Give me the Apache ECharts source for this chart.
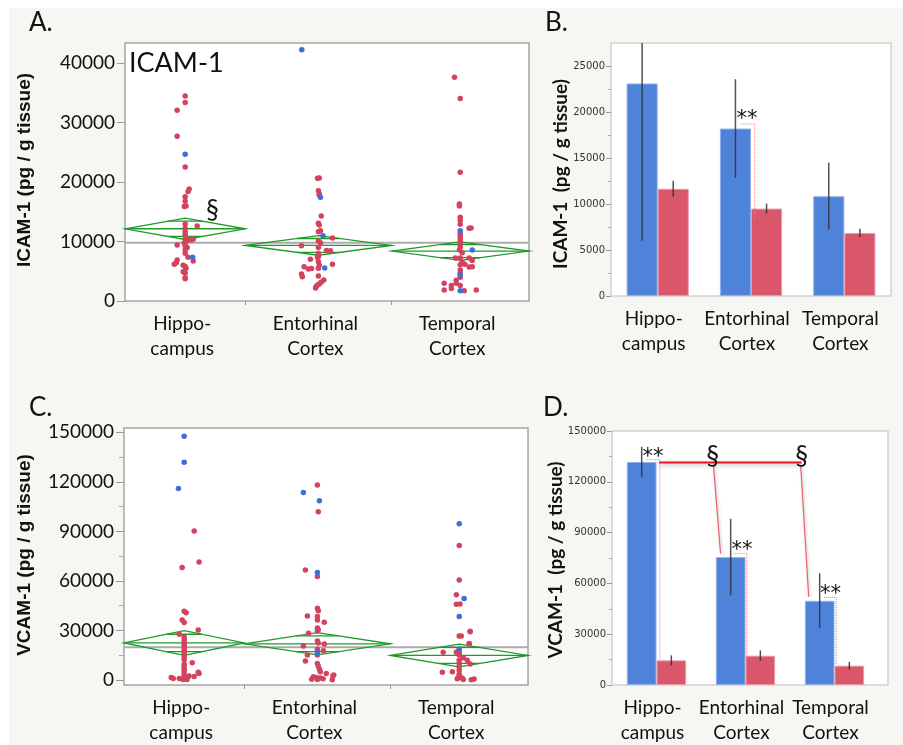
<!DOCTYPE html>
<html><head><meta charset="utf-8">
<script src="https://cdn.jsdelivr.net/npm/echarts@6/dist/echarts.min.js"></script>
<style>html,body{margin:0;padding:0;background:#fff}#c{width:903px;height:745px}</style>
</head><body><div id="c"></div>
<script>
// ---------------- DATA ----------------
const categories = ['Hippo-\ncampus', 'Entorhinal\nCortex', 'Temporal\nCortex'];
const groupN = [42, 51, 48];   // group sizes (JMP proportional x-axis)

// ICAM-1 individual values (A)
const icamHippoRed = [34500,33400,32100,27700,22550,18850,18400,17550,16800,16000,15900,12950,12600,12230,11660,11200,10820,10400,10330,10250,10000,9800,9420,9300,9000,8600,8020,7350,6900,6730,6450,6170,6000,5800,5500,4930,4700,3930,3750];
const icamHippoRedJitter = [0,0,-2.8,-2.8,0,1.4,1,0,0,0.3,-0.3,0,4.2,0,0,0,0,2.8,1.4,2.1,0.3,-0.3,-2.8,0,0.7,0,0,1,-2.8,2.8,-3.1,-3.8,-0.7,0,0.3,-0.7,0,0,0];
const icamHippoBlue = [24700, 7350];
const icamHippoBlueJitter = [0, 2.6];
const icamEntRed = [20650,20700,18560,18000,17850,14300,13070,12800,11830,11660,10600,10100,9800,9310,9000,8500,8450,8000,7500,7350,7020,6600,6170,6000,5780,5500,5450,5400,4540,4100,4200,3530,3200,2860,2700,2500,2200];
const icamEntRedJitter = [-0.3,0.3,0,0.3,0.3,1,0,0.3,0.7,0,4.9,0,0.7,-5.9,0,2.8,4.2,0,0,-0.3,-2.8,0,4.9,0.3,-5,0,-2.4,-3.5,-5.9,-5.6,0,1.9,1,0.3,-0.3,-0.7,-1];
const icamEntBlue = [42250, 17450, 10990, 5550];
const icamEntBlueJitter = [-5.8, 0.7, 1.6, 2.2];
const icamTempRed = [37650,34050,21650,16300,16000,14100,13600,12900,12280,12230,11400,11000,10600,10100,9600,9100,8600,8100,7240,7240,7240,6800,6500,6170,6100,5770,5700,5200,4660,4000,3500,3000,3000,2600,2600,2100,1850,1850,1730];
const icamTempRedJitter = [-2,0,0,-0.3,-0.3,0,0,0,3.8,3.1,0,0,0,0,0,0,-0.3,0.7,-1.7,0,3.1,4.2,0.7,1.6,0,4.2,3.1,0,0,0,-1.4,-5.6,-1.4,-3.1,0,-3.1,-5.6,5.6,1.4];
const icamTempBlue = [11830, 8580, 4380, 1730];
const icamTempBlueJitter = [0, 4.2, 0, 0];
const icamMeans = [12150, 9350, 8400];
const icamCiHalf = [1800, 1650, 1550];
const icamGrandMean = 9800;

// VCAM-1 individual values (C)
const vcamHippoRed = [90200,71400,68100,41700,40800,36400,34800,30300,27700,26000,24500,23000,21500,20000,18500,17000,15500,14000,12500,10500,9500,8000,6500,5000,4700,4000,3200,2500,2200,2000,1500,1000,900,600,400,300];
const vcamHippoRedJitter = [3.5,5.2,-0.7,0,0.7,-0.7,0,4.9,-1.7,0,0,0,0,0,0,0,0,0,0,2.8,0,0,0,0,4.9,5.2,0,1.7,3.5,0,-4.5,-3.8,-1.7,0,1,-0.5];
const vcamHippoBlue = [147600, 131800, 116000];
const vcamHippoBlueJitter = [0, 0, -2];
const vcamEntRed = [118100,101900,66700,62700,43500,42000,38800,38400,36400,35000,31500,30500,29700,28300,23600,22500,21800,20600,18600,17800,15200,15200,11500,10000,8500,6500,5000,4000,3000,2500,2000,1500,1200,800,500,300,200];
const vcamEntRedJitter = [0,0.3,-4.2,0,0,0.3,-3.5,0,0,2.4,0,0.3,0,-3.1,0,0.3,2.4,-4.9,0,2.1,0,-3.5,-4.2,0,0.3,0.7,1,3.1,5.7,5.4,-1.4,-0.3,1,2,-2,0,5.2];
const vcamEntBlue = [113600, 108600, 65100, 16600];
const vcamEntBlueJitter = [-4.9, 0.7, 0, 0];
const vcamTempRed = [81500,60600,51700,46100,45900,29500,29300,26700,26700,22200,22000,16800,16800,16800,15100,13500,12000,12000,10000,9700,8000,6000,5000,4700,3500,2500,1500,1200,800,600,400,200];
const vcamTempRedJitter = [0,0,-1,0.3,-1,3.8,3.8,0,0.7,3.5,3.5,-5.6,-1,0,0,1.4,2.8,0,0,3.8,0,0,-2.4,-5.9,0,0,0,1,-0.7,5.2,1.4,4.2];
const vcamTempBlue = [94600, 49300, 38400, 18600];
const vcamTempBlueJitter = [0, 1.7, 0, 0];
const vcamMeans = [22450, 21950, 14900];
const vcamCiHalf = [7450, 6750, 6870];
const vcamGrandMean = 19800;

// Bar charts (B, D)
const icamBlueMean = [23100, 18200, 10850];
const icamBlueErr = [17100, 5360, 3630];
const icamRedMean = [11650, 9500, 6850];
const icamRedErr = [870, 540, 470];
const vcamBlueMean = [131700, 75500, 49700];
const vcamBlueErr = [9000, 22600, 16250];
const vcamRedMean = [14550, 17300, 11400];
const vcamRedErr = [2950, 3150, 2250];

// Tick values
const icamScatterTicks = [0, 10000, 20000, 30000, 40000];
const vcamScatterTicks = [0, 30000, 60000, 90000, 120000, 150000];
const vcamScatterMinor = [15000, 45000, 75000, 105000, 135000];
const icamBarTicks = [0, 5000, 10000, 15000, 20000, 25000];
const icamBarMinor = [2500, 7500, 12500, 17500, 22500];
const vcamBarTicks = [0, 30000, 60000, 90000, 120000, 150000];
const vcamBarMinor = [15000, 45000, 75000, 105000, 135000];

// Annotations (category index units for bars, subject units for scatter)
const icamSection = [[30.5, 15150]];
const icamStars = [[0.957, 19830]];
const icamBrackets = [[[0.89, 18700], [1.04, 18700], [1.04, 8240]]];
const vcamStars = [[-0.04, 138150], [0.96, 83000], [1.955, 57000]];
const vcamBrackets = [
  [[-0.11, 133100], [0.037, 133100], [0.037, 14700]],
  [[0.865, 77700], [1.015, 77700], [1.015, 17700]],
  [[1.88, 51700], [2.02, 51700], [2.02, 11800]]
];
const vcamSigLine = [[0.03, 131400], [1.63, 131400]];
const vcamSigLinks = [[[0.64, 129800], [0.72, 77700]], [[1.62, 129800], [1.71, 52100]]];
const vcamSection = [[0.63, 134800], [1.63, 134800]];

// ---------------- BUILD ----------------
const RED = '#d3435d', BLUE = '#3c6fd8', GREEN = '#1f9a2a';
const BAR_BLUE = '#4f83d9', BAR_RED = '#d9566b';
const bounds = [0];
groupN.forEach(n => bounds.push(bounds[bounds.length - 1] + n));
const centers = groupN.map((n, i) => (bounds[i] + bounds[i + 1]) / 2);
const xMaxS = bounds[bounds.length - 1];
const barFrac = 1 / 3;

function pts(vals, jit, g) { return vals.map((v, i) => [centers[g] + jit[i], v]); }
function labelFor(v) {
  let best = 0;
  centers.forEach((c, i) => { if (Math.abs(c - v) < Math.abs(centers[best] - v)) best = i; });
  return categories[best];
}
const plain = v => String(Math.round(v));
const noLine = { show: false, onZero: false };

function scatterX(grid) {
  return {
    type: 'value', gridIndex: grid, min: 0, max: xMaxS,
    axisLine: noLine,
    axisTick: { show: true, customValues: bounds.slice(1, -1), length: 4, lineStyle: { color: '#999' } },
    axisLabel: { customValues: centers, formatter: v => labelFor(v), fontFamily: 'Lato', fontSize: 19, lineHeight: 25, color: '#111', margin: 10, padding: [0, 6, 0, 0] },
    splitLine: { show: false }
  };
}
function barX(grid) {
  return {
    type: 'category', gridIndex: grid, data: categories,
    axisLine: noLine, axisTick: { show: false },
    axisLabel: { interval: 0, fontFamily: 'Lato', fontSize: 19, lineHeight: 25, color: '#111', margin: 10, padding: [0, 8, 0, 0] },
    splitLine: { show: false }
  };
}
function hiddenX(grid) {
  return { type: 'value', gridIndex: grid, min: -0.5, max: 2.5, show: false,
    axisLine: noLine, axisTick: { show: false }, axisLabel: { show: false }, splitLine: { show: false } };
}
function yMain(grid, min, max, ticks, tickLen, font, size, color, margin) {
  return {
    type: 'value', gridIndex: grid, min, max, position: 'left',
    axisLine: noLine,
    axisTick: { show: true, customValues: ticks, length: tickLen, lineStyle: { color: '#999' } },
    axisLabel: { customValues: ticks, formatter: plain, fontFamily: font, fontSize: size, color, margin },
    splitLine: { show: false }
  };
}
function yMinor(grid, min, max, ticks, tickLen) {
  return {
    type: 'value', gridIndex: grid, min, max, position: 'left', offset: 0,
    axisLine: noLine,
    axisTick: { show: true, customValues: ticks, length: tickLen, lineStyle: { color: '#aaa' } },
    axisLabel: { show: false }, splitLine: { show: false }
  };
}

function diamondSeries(xi, yi, means, ci) {
  return {
    type: 'custom', xAxisIndex: xi, yAxisIndex: yi, z: 3, silent: true,
    data: means.map((m, i) => [bounds[i], bounds[i + 1], m, ci[i]]),
    renderItem: (p, api) => {
      const x0 = api.value(0), x1 = api.value(1), m = api.value(2), h = api.value(3);
      const xc = (x0 + x1) / 2, w = (x1 - x0) / 2, f = Math.SQRT1_2, k = 1 - f;
      const P = (x, y) => api.coord([x, y]);
      const st = { stroke: GREEN, lineWidth: 1.3, fill: null };
      const ln = (a, b) => ({ type: 'line', shape: { x1: a[0], y1: a[1], x2: b[0], y2: b[1] }, style: st });
      return {
        type: 'group', children: [
          { type: 'polygon', shape: { points: [P(x0, m), P(xc, m + h), P(x1, m), P(xc, m - h)] }, style: st },
          ln(P(x0, m), P(x1, m)),
          ln(P(xc - k * w, m + f * h), P(xc + k * w, m + f * h)),
          ln(P(xc - k * w, m - f * h), P(xc + k * w, m - f * h))
        ]
      };
    }
  };
}
function scatterSeries(xi, yi, data, color) {
  return { type: 'scatter', xAxisIndex: xi, yAxisIndex: yi, data, symbolSize: 5.5, z: 5, silent: true,
    itemStyle: { color, opacity: 1 } };
}
function meanLine(xi, yi, gm) {
  return { type: 'line', xAxisIndex: xi, yAxisIndex: yi, data: [[0, gm], [xMaxS, gm]], symbol: 'none', z: 2, silent: true,
    lineStyle: { color: '#ababab', width: 2 } };
}
function barSeries(xi, yi, data, color, border) {
  return { type: 'bar', xAxisIndex: xi, yAxisIndex: yi, data, barWidth: '33.3%', barGap: '0%', z: 2, silent: true,
    label: { show: false }, itemStyle: { color, borderColor: border, borderWidth: 1 } };
}
function errSeries(xi, yi, means, errs, off, yMax) {
  return {
    type: 'custom', xAxisIndex: xi, yAxisIndex: yi, z: 4, silent: true,
    data: means.map((m, i) => [i + off, m - errs[i], Math.min(m + errs[i], yMax)]),
    renderItem: (p, api) => {
      const a = api.coord([api.value(0), api.value(1)]), b = api.coord([api.value(0), api.value(2)]);
      return { type: 'line', shape: { x1: a[0], y1: a[1], x2: b[0], y2: b[1] }, style: { stroke: '#333', lineWidth: 1.5, opacity: 0.85 } };
    }
  };
}
function textSeries(xi, yi, items, text, font, dy) {
  return {
    type: 'custom', xAxisIndex: xi, yAxisIndex: yi, z: 10, silent: true, data: items,
    renderItem: (p, api) => {
      const c = api.coord([api.value(0), api.value(1)]);
      return { type: 'text', x: c[0], y: c[1] + dy, style: { text, font, fill: '#111', align: 'center', verticalAlign: 'middle' } };
    }
  };
}
function polySeries(xi, yi, data, style) {
  return { type: 'line', xAxisIndex: xi, yAxisIndex: yi, data, symbol: 'none', showSymbol: false, z: 6, silent: true,
    lineStyle: style, label: { show: false }, endLabel: { show: false } };
}

const dotted = { type: 'dotted', color: '#f07c88', width: 1 };
const series = [
  // A
  meanLine(0, 0, icamGrandMean),
  diamondSeries(0, 0, icamMeans, icamCiHalf),
  scatterSeries(0, 0, [].concat(pts(icamHippoRed, icamHippoRedJitter, 0), pts(icamEntRed, icamEntRedJitter, 1), pts(icamTempRed, icamTempRedJitter, 2)), RED),
  scatterSeries(0, 0, [].concat(pts(icamHippoBlue, icamHippoBlueJitter, 0), pts(icamEntBlue, icamEntBlueJitter, 1), pts(icamTempBlue, icamTempBlueJitter, 2)), BLUE),
  textSeries(0, 0, icamSection, '§', '26px Lato', 0),
  // B
  barSeries(1, 1, icamBlueMean, BAR_BLUE, '#8fb0ea'),
  barSeries(1, 1, icamRedMean, BAR_RED, '#eb9aa6'),
  errSeries(2, 1, icamBlueMean, icamBlueErr, -barFrac / 2, 27500),
  errSeries(2, 1, icamRedMean, icamRedErr, barFrac / 2, 27500),
  ...icamBrackets.map(b => polySeries(2, 1, b, dotted)),
  textSeries(2, 1, icamStars, '**', '21px "DejaVu Sans"', 6),
  // C
  meanLine(3, 3, vcamGrandMean),
  diamondSeries(3, 3, vcamMeans, vcamCiHalf),
  scatterSeries(3, 3, [].concat(pts(vcamHippoRed, vcamHippoRedJitter, 0), pts(vcamEntRed, vcamEntRedJitter, 1), pts(vcamTempRed, vcamTempRedJitter, 2)), RED),
  scatterSeries(3, 3, [].concat(pts(vcamHippoBlue, vcamHippoBlueJitter, 0), pts(vcamEntBlue, vcamEntBlueJitter, 1), pts(vcamTempBlue, vcamTempBlueJitter, 2)), BLUE),
  // D
  barSeries(4, 5, vcamBlueMean, BAR_BLUE, '#8fb0ea'),
  barSeries(4, 5, vcamRedMean, BAR_RED, '#eb9aa6'),
  errSeries(5, 5, vcamBlueMean, vcamBlueErr, -barFrac / 2, 150000),
  errSeries(5, 5, vcamRedMean, vcamRedErr, barFrac / 2, 150000),
  ...vcamBrackets.map(b => polySeries(5, 5, b, dotted)),
  polySeries(5, 5, vcamSigLine, { color: '#e8141e', width: 2, shadowBlur: 4, shadowColor: 'rgba(0,0,0,0.3)', shadowOffsetY: 2 }),
  ...vcamSigLinks.map(l => polySeries(5, 5, l, { color: '#ec5f66', width: 1.2, shadowBlur: 3, shadowColor: 'rgba(0,0,0,0.25)', shadowOffsetX: 1 })),
  textSeries(5, 5, vcamStars, '**', '21px "DejaVu Sans"', 6),
  textSeries(5, 5, vcamSection, '§', '26px Lato', 0)
];

const T = (x, y, text, font, rot) => ({ type: 'text', x, y, rotation: rot || 0, z: 50,
  style: { text, font, fill: '#111', align: rot ? 'center' : 'left', verticalAlign: 'middle' } });

const option = {
  animation: false,
  backgroundColor: '#f6f6f2',
  tooltip: { show: false },
  axisPointer: { show: false },
  grid: [
    { left: 125, top: 43, width: 404, height: 258, show: true, backgroundColor: '#fff', borderColor: '#a5a5a5', borderWidth: 1.5 },
    { left: 611, top: 43, width: 280, height: 253, show: true, backgroundColor: '#fff', borderColor: '#d2d2d2', borderWidth: 1.5 },
    { left: 124, top: 428, width: 404, height: 257, show: true, backgroundColor: '#fff', borderColor: '#a5a5a5', borderWidth: 1.5 },
    { left: 612, top: 431, width: 276, height: 254, show: true, backgroundColor: '#fff', borderColor: '#d2d2d2', borderWidth: 1.5 },
    { left: 612, top: 431, width: 267, height: 254, show: false }
  ],
  xAxis: [
    scatterX(0),            // 0 A
    barX(1),                // 1 B
    hiddenX(1),             // 2 B annotations
    scatterX(2),            // 3 C
    barX(4),                // 4 D
    hiddenX(4),             // 5 D annotations
    { type: 'value', gridIndex: 3, show: false, axisLine: noLine }  // 6 frame D
  ],
  yAxis: [
    yMain(0, 0, 43400, icamScatterTicks, 8, 'Lato', 19, '#111', 10),      // 0 A
    yMain(1, 0, 27500, icamBarTicks, 5, 'DejaVu Sans', 10, '#333', 6),    // 1 B
    yMinor(1, 0, 27500, icamBarMinor, 3),                                  // 2 B minor ticks
    yMain(2, -3000, 152600, vcamScatterTicks, 8, 'Lato', 19, '#111', 10), // 3 C
    yMinor(2, -3000, 152600, vcamScatterMinor, 5),                         // 4 C minor ticks
    yMain(4, 0, 150000, vcamBarTicks, 5, 'DejaVu Sans', 10, '#333', 6),   // 5 D
    yMinor(4, 0, 150000, vcamBarMinor, 3),                                 // 6 D minor ticks
    { type: 'value', gridIndex: 3, show: false, axisLine: noLine }         // 7 frame D
  ],
  graphic: [
    { type: 'rect', shape: { x: 0, y: 0, width: 903, height: 8 }, style: { fill: '#fff' }, z: 0 },
    { type: 'rect', shape: { x: 0, y: 0, width: 9, height: 745 }, style: { fill: '#fff' }, z: 0 },
    T(29, 23, 'A.', '26px Lato'),
    T(545, 23, 'B.', '26px Lato'),
    T(29, 408, 'C.', '26px Lato'),
    T(543, 408, 'D.', '26px Lato'),
    T(129, 63, 'ICAM-1', '27px Lato'),
    T(25, 170, 'ICAM-1 (pg / g tissue)', 'bold 19px "Liberation Sans"', Math.PI / 2),
    T(561, 174, 'ICAM-1  (pg / g tissue)', 'bold 19px Lato', Math.PI / 2),
    T(25, 555, 'VCAM-1 (pg / g tissue)', 'bold 19px "Liberation Sans"', Math.PI / 2),
    T(556, 560, 'VCAM-1  (pg / g tissue)', 'bold 19px Lato', Math.PI / 2)
  ],
  series
};
const chart = echarts.init(document.getElementById('c'), null, { renderer: 'canvas' });
chart.setOption(option);
</script></body></html>
